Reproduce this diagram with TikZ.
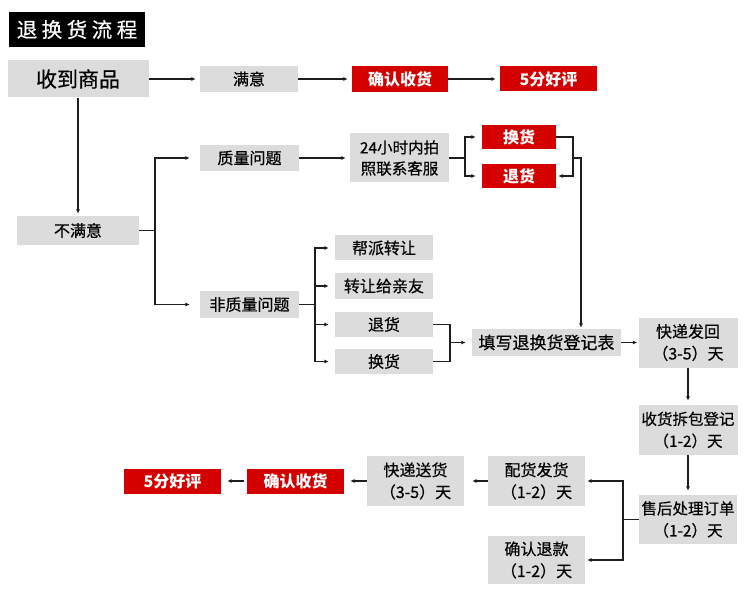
\documentclass[tikz,border=0pt]{standalone}
\usepackage{fontspec}
\setmainfont{Noto Sans CJK SC}
\newfontfamily\heifont[FakeBold=0.5]{Noto Sans CJK SC}
\usetikzlibrary{arrows.meta}
\definecolor{boxgray}{HTML}{DCDCDC}
\definecolor{boxred}{HTML}{D40000}
\definecolor{linec}{HTML}{1E1E1E}
\tikzset{
  sz/.style 2 args={minimum width=#1pt, minimum height=#2pt},
  gbox/.style={fill=boxgray, inner sep=0pt, text=black, align=center,
    font=\heifont\fontsize{16}{22}\selectfont},
  rbox/.style={fill=boxred, inner sep=0pt, text=white,
    font=\bfseries\fontsize{16}{22}\selectfont},
  arr/.style={line width=1.1pt, draw=linec, -{Latex[length=4.5pt,width=4pt]}, shorten >=4pt},
  ln/.style={line width=1.1pt, draw=linec},
}
\begin{document}
\begin{tikzpicture}[x=1pt,y=-1pt]
\useasboundingbox (0,0) rectangle (750,596);
% title
\node[fill=black, text=white, inner sep=0pt, sz={136}{35}, font=\heifont\fontsize{20.5}{24}\selectfont] (title) at (77,29.5)
  {退\hspace{4.5pt}换\hspace{4.5pt}货\hspace{4.5pt}流\hspace{4.5pt}程};
% top row
\node[gbox, sz={141}{37}, font=\heifont\fontsize{21}{24}\selectfont] (recv) at (78,79) {收到商品};
\node[gbox, sz={98}{26}] (sat) at (249,79) {满意};
\node[rbox, sz={96}{26}] (conf1) at (400,79) {确认收货};
\node[rbox, sz={97}{25}] (good1) at (548.5,79) {5分好评};
% unsatisfied branch
\node[gbox, sz={122}{29}] (unsat) at (78,230.5) {不满意};
\node[gbox, sz={99}{26}] (qual) at (249.5,158) {质量问题};
\node[gbox, sz={99}{49}, font=\heifont\fontsize{15.5}{21}\selectfont] (call) at (399.5,158) {24小时内拍\\照联系客服};
\node[rbox, sz={74}{24}] (ex1) at (519,137) {换货};
\node[rbox, sz={74}{24}] (ret1) at (519,176) {退货};
\node[gbox, sz={99}{27}] (nonq) at (249.5,304.5) {非质量问题};
\node[gbox, sz={98}{25}] (help) at (384,248) {帮派转让};
\node[gbox, sz={98}{26}] (give) at (384,286) {转让给亲友};
\node[gbox, sz={98}{25}] (ret2) at (384,324.5) {退货};
\node[gbox, sz={98}{25}] (ex2) at (384,361.5) {换货};
\node[gbox, sz={149}{27}, font=\heifont\fontsize{17}{22}\selectfont] (form) at (546.5,342.5) {填写退换货登记表};
\node[gbox, sz={99}{50}] (back) at (688,342.5) {快递发回\\（3-5）天};
\node[gbox, sz={99}{50}, font=\heifont\fontsize{15.5}{22}\selectfont] (unpack) at (688,430) {收货拆包登记\\（1-2）天};
\node[gbox, sz={98}{49}, font=\heifont\fontsize{15.5}{22}\selectfont] (after) at (688,519.5) {售后处理订单\\（1-2）天};
\node[gbox, sz={97}{50}] (ship) at (536.5,481) {配货发货\\（1-2）天};
\node[gbox, sz={97}{48}] (refund) at (536.5,560) {确认退款\\（1-2）天};
\node[gbox, sz={97}{50}] (deliver) at (415.5,481) {快递送货\\（3-5）天};
\node[rbox, sz={97}{25}] (conf2) at (295.5,481) {确认收货};
\node[rbox, sz={97}{25}] (good2) at (172.5,481) {5分好评};
% junctions
\coordinate (j1) at (155,230.5);
\coordinate (j2) at (465,158);
\coordinate (j3) at (573,158);
\coordinate (j4) at (581,158);
\coordinate (j5) at (315,304.5);
\coordinate (j6) at (450,342.5);
\coordinate (j7) at (623,519.5);
% connectors
\draw[arr] (recv) -- (sat);
\draw[arr] (sat) -- (conf1);
\draw[arr] (conf1) -- (good1);
\draw[arr, shorten >=2pt] (recv) -- (unsat);
\draw[ln] (unsat.east) -- (j1);
\draw[arr, shorten >=10pt] (j1) |- (qual.west);
\draw[arr, shorten >=10pt] (j1) |- (nonq.west);
\draw[arr] (qual) -- (call);
\draw[ln] (call.east) -- (j2);
\draw[arr, shorten >=6pt] (j2) |- (ex1.west);
\draw[arr, shorten >=6pt] (j2) |- (ret1.west);
\draw[arr, shorten >=2pt] (ex1.east) -| (j3) |- (ret1.east);
\draw[arr, shorten >=1pt] (j3) -- (j4) -- (j4 |- form.north);
\draw[ln] (nonq.east) -- (j5);
\draw[arr, shorten >=6pt] (j5) |- (help.west);
\draw[arr, shorten >=6pt] (j5) |- (give.west);
\draw[arr, shorten >=6pt] (j5) |- (ret2.west);
\draw[arr, shorten >=6pt] (j5) |- (ex2.west);
\draw[ln] (ret2.east) -| (j6) |- (ex2.east);
\draw[arr, shorten >=6pt] (j6) -- (form.west);
\draw[arr, shorten >=1pt] (form) -- (back);
\draw[arr] (back) -- (unpack);
\draw[arr] (unpack) -- (after);
\draw[ln] (after.west) -- (j7);
\draw[arr, shorten >=2pt] (j7) |- (ship.east);
\draw[arr, shorten >=2pt] (j7) |- (refund.east);
\draw[arr, shorten >=8pt] (ship) -- (deliver);
\draw[arr, shorten >=6pt] (deliver) -- (conf2);
\draw[arr, shorten >=6pt, shorten <=3pt] (conf2) -- (good2);
\end{tikzpicture}
\end{document}
